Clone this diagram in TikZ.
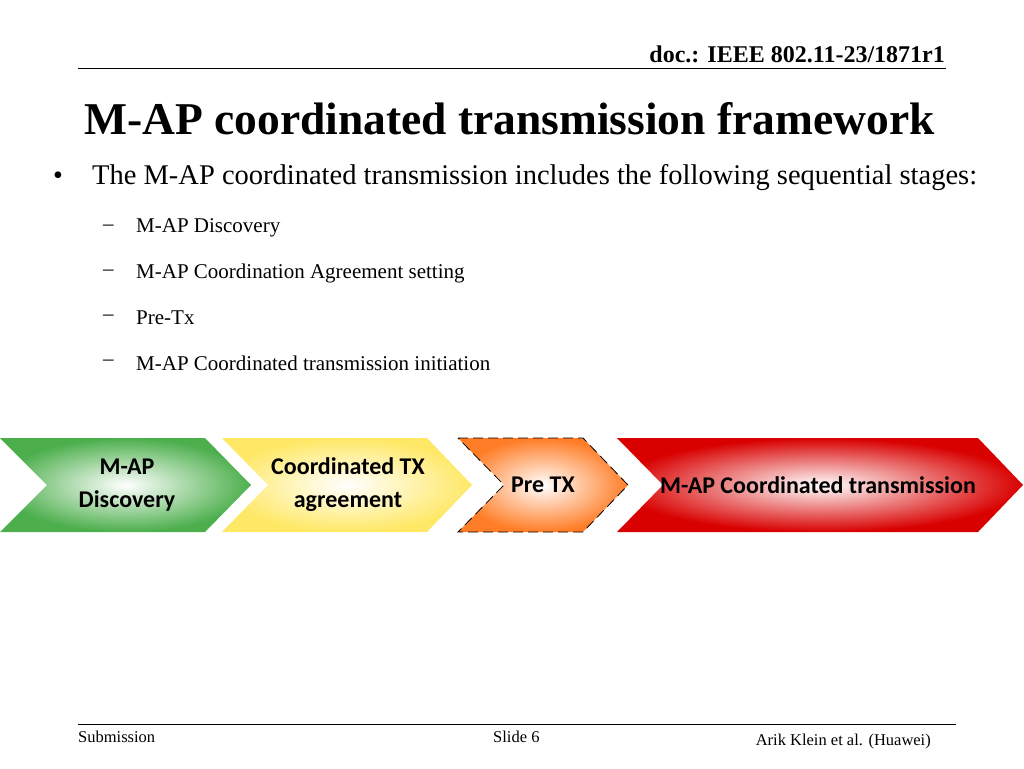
\documentclass[tikz,border=0pt]{standalone}
\usepackage{fontspec}
\setmainfont{Liberation Serif}
\newfontfamily\calib{Carlito}
\usetikzlibrary{positioning}
\tikzset{
  stagetext/.style={font=\calib\bfseries\fontsize{24}{33}\selectfont,align=center},
  bodytext/.style={anchor=west,inner sep=0pt}
}
% chevron: left x, notch x, corner x, tip x, colour
\newcommand{\chevron}[5]{%
  \shade[inner color=white,outer color=#5] (#1,438)--(#3,438)--(#4,485)--(#3,532)--(#1,532)--(#2,485)--cycle;}
\begin{document}
\begin{tikzpicture}[x=1pt,y=-1pt]
	\useasboundingbox (0,0) rectangle (1024,768);
	%header
	\node[anchor=south east,inner sep=0pt,font=\bfseries\fontsize{24}{26}\selectfont] (doc) at (945,63) {doc.: IEEE 802.11-23/1871r1};
	\draw[thick] (78,68)--(946,68);
	\node[anchor=west,inner sep=0pt,font=\bfseries\fontsize{45.5}{50}\selectfont] (title) at (84,119) {M-AP coordinated transmission framework};
	
	%bullets
	\node[bodytext,font=\fontsize{28.5}{32}\selectfont] (intro) at (92,178) {The M-AP coordinated transmission includes the following sequential stages:};
	\node[bodytext,font=\fontsize{28}{32}\selectfont] at (53,178) {•};
	\foreach \y/\t in {228/M-AP Discovery,273/M-AP Coordination Agreement setting,318/Pre-Tx,363/M-AP Coordinated transmission initiation}{
		\node[bodytext,font=\fontsize{21}{24}\selectfont] at (103,\y) {–};
		\node[bodytext,font=\fontsize{21}{24}\selectfont] at (136,\y) {\t};
	}
	
	%stages
	\chevron{0}{47}{205}{251}{green!55!black!70!white}
	\chevron{222}{268}{427}{472}{yellow!70!orange!60!white}
	\chevron{458}{504}{583}{628}{orange!80!red!85!white}
	\draw[thick,dash pattern=on 10pt off 5pt] (458,438)--(583,438)--(628,485)--(583,532)--(458,532)--(504,485)--cycle;
	\chevron{617}{663}{978}{1023}{red!85!black}
	\node[stagetext] (disc) at (127,485) {M-AP\\Discovery};
	\node[stagetext] (agree) at (348,485) {Coordinated TX\\agreement};
	\node[stagetext] (pretx) at (543,485) {Pre TX};
	\node[stagetext] (coord) at (818,485) {M-AP Coordinated transmission};
	
	%footer
	\draw (78,724)--(956,724);
	\node[anchor=west,inner sep=0pt,font=\fontsize{16.5}{18}\selectfont] (sub) at (78,737) {Submission};
	\node[anchor=west,inner sep=0pt,font=\fontsize{16.5}{18}\selectfont] (slide) at (493,737) {Slide 6};
	\node[anchor=east,inner sep=0pt,font=\fontsize{16.5}{18}\selectfont] (auth) at (931,742) {Arik Klein et al. (Huawei)};
\end{tikzpicture}
\end{document}
